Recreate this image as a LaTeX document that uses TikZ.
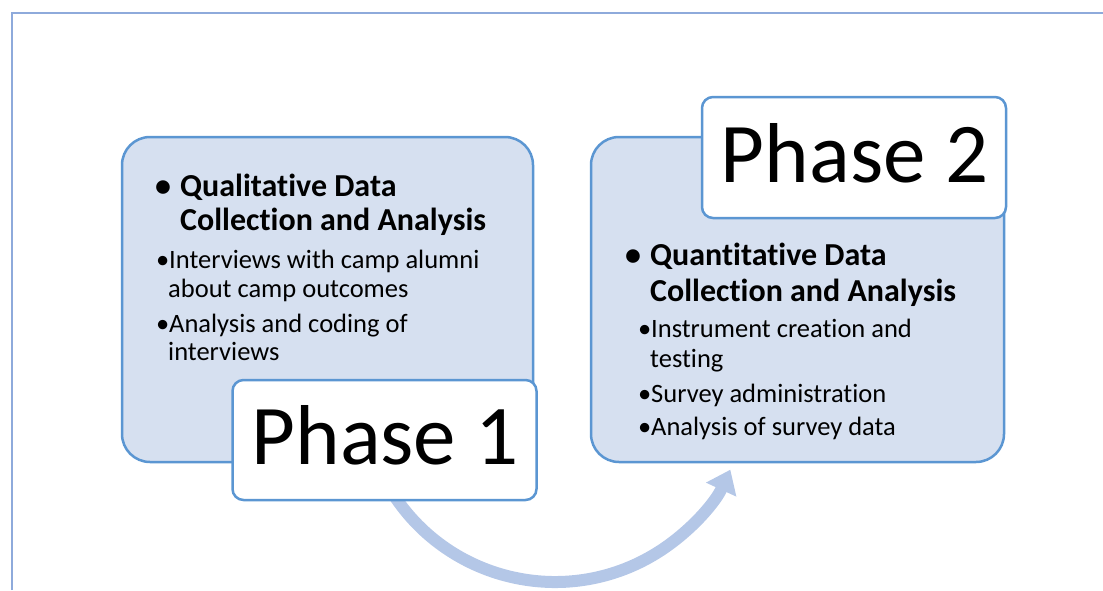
\documentclass[tikz,border=0pt]{standalone}
\usepackage{fontspec}
\setmainfont{Carlito}[Ligatures=NoCommon]
\usetikzlibrary{arrows.meta}
\definecolor{framecol}{RGB}{142,170,219}
\definecolor{boxline}{RGB}{91,150,210}
\definecolor{boxfill}{RGB}{214,224,240}
\definecolor{arrowcol}{RGB}{180,199,231}
\tikzset{
  panel/.style={draw=boxline, line width=2.5pt, fill=boxfill, rounded corners=28pt},
  phasebox/.style={draw=boxline, line width=2.5pt, fill=white, rounded corners=11pt},
  phasetext/.style={anchor=base, font=\fontsize{85}{96}\selectfont, inner sep=0pt},
  head/.style={anchor=base west, inner sep=0pt, font=\fontsize{32}{38}\selectfont\bfseries},
  item/.style={anchor=base west, inner sep=0pt, font=\fontsize{26.5}{31}\selectfont},
}
\begin{document}
\begin{tikzpicture}[x=1pt, y=-1pt]
  \useasboundingbox (0,0) rectangle (1103,590);
  % page frame
  \draw[framecol, line width=2.5pt] (12,590) -- (12,13) -- (1103,13);

  % sweeping arrow from phase 1 to phase 2
  \coordinate (arcstart) at ({555+193*cos(147)},{389+193*sin(147)});
  \draw[arrowcol, line width=12pt, -{Triangle[width=32pt,length=22pt]}]
    (arcstart) arc[start angle=147, end angle=24.7, radius=193];

  % phase 1 panel
  \draw[panel] (122,137) rectangle (533,462);
  \node[phasebox, minimum width=304pt, minimum height=120pt] (p1) at (384.5,440) {};
  \node[phasetext] (p1t) at (385,464) {Phase 1};

  \node[head] (q1b) at (155,196) {•};
  \node[head] (q1a) at (180,196) {Qualitative Data};
  \node[head] (q1c) at (180,230) {Collection and Analysis};
  \node[item] (i1b) at (156,268) {•};
  \node[item] (i1a) at (169,268) {Interviews with camp alumni};
  \node[item] (i1c) at (168,297) {about camp outcomes};
  \node[item] (i2b) at (156,332) {•};
  \node[item] (i2a) at (169,332) {Analysis and coding of};
  \node[item] (i2c) at (168,360) {interviews};

  % phase 2 panel
  \draw[panel] (591,137) rectangle (1004,462);
  \node[phasebox, minimum width=304pt, minimum height=121pt] (p2) at (854,157.5) {};
  \node[phasetext] (p2t) at (854.5,182) {Phase 2};

  \node[head] (q2b) at (625,265) {•};
  \node[head] (q2a) at (650,265) {Quantitative Data};
  \node[head] (q2c) at (650,301) {Collection and Analysis};
  \node[item] (j1b) at (638,337) {•};
  \node[item] (j1a) at (651,337) {Instrument creation and};
  \node[item] (j1c) at (650,367) {testing};
  \node[item] (j2b) at (638,402) {•};
  \node[item] (j2a) at (651,402) {Survey administration};
  \node[item] (j3b) at (638,435) {•};
  \node[item] (j3a) at (651,435) {Analysis of survey data};
\end{tikzpicture}
\end{document}
